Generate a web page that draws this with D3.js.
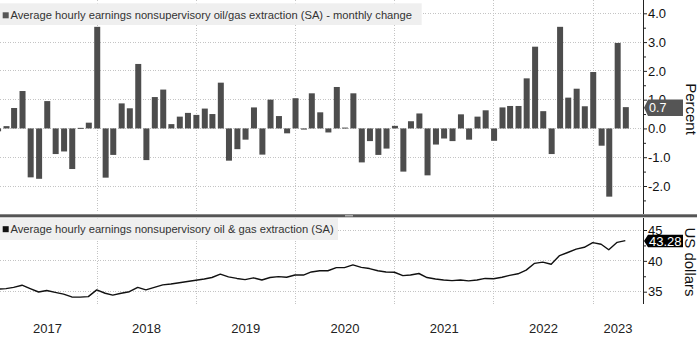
<!DOCTYPE html>
<html>
<head>
<meta charset="utf-8">
<script src="https://cdn.jsdelivr.net/npm/d3@7"></script>
<style>
body{margin:0;background:#fff}
text{font-family:"Liberation Sans",Arial,sans-serif}
</style>
</head>
<body>
<svg width="697" height="337"></svg>
<script>
"use strict";
// monthly % change, Dec 2016 .. Apr 2023 (month-end)
var barChanges = [
  -0.1, 0.08, 0.71, 1.30, -1.70, -1.75, 0.95, -0.89, -0.80, -1.41,
  0.02, 0.20, 3.53, -1.71, -0.92, 0.87, 0.70, 2.24, -1.10, 1.09,
  1.35, 0.15, 0.41, 0.54, 0.47, 0.69, 0.50, 1.59, -1.12, -0.72,
  -0.39, 0.73, -0.91, 1.00, 0.43, -0.17, 1.05, -0.04, 1.22, 0.56,
  -0.14, 1.44, 0.03, 1.22, -1.18, -0.44, -0.92, -0.70, 0.09, -1.50,
  0.25, 0.52, -1.63, -0.56, -0.35, -0.44, 0.49, -0.39, 0.41, 0.63,
  -0.43, 0.73, 0.78, 0.78, 1.74, 2.84, 0.60, -0.89, 3.53, 1.07,
  1.38, 0.77, 1.96, -0.60, -2.37, 2.97, 0.74
];
// hourly earnings level, US dollars
var earnings = [
  35.4, 35.5, 35.7, 36.05, 35.5, 34.95, 35.2, 34.9, 34.6, 34.15,
  34.12, 34.2, 35.3, 34.75, 34.45, 34.75, 35.0, 35.7, 35.3, 35.7,
  36.1, 36.25, 36.45, 36.65, 36.85, 37.05, 37.3, 37.85, 37.4, 37.15,
  36.95, 37.25, 36.9, 37.3, 37.45, 37.35, 37.7, 37.7, 38.2, 38.4,
  38.4, 38.9, 38.9, 39.35, 38.95, 38.75, 38.4, 38.2, 38.15, 37.6,
  37.7, 37.95, 37.3, 37.05, 36.9, 36.8, 36.9, 36.75, 36.9, 37.15,
  37.1, 37.35, 37.65, 37.9, 38.5, 39.6, 39.8, 39.45, 40.85, 41.35,
  41.9, 42.2, 42.95, 42.7, 41.8, 43.0, 43.28
];
var years = [2017, 2018, 2019, 2020, 2021, 2022, 2023];
var topTicks = [-2, -1, 0, 1, 2, 3, 4];
var topMinor = [-2.5, -1.5, -0.5, 0.5, 1.5, 2.5, 3.5];
var botTicks = [35, 40, 45];
var botMinor = [37.5, 42.5];
var topTitle = "Average hourly earnings nonsupervisory oil/gas extraction (SA) - monthly change";
var botTitle = "Average hourly earnings nonsupervisory oil & gas extraction (SA)";

// month-end dates
var months = barChanges.map(function(d, i) {return new Date(2017, i, 0)});

//layout constants
const axisX = 643;
const topBottom = 213;
const botTop = 218, botBottom = 304;
const barColor = "#4d4d4d";
const gridColor = "#c4c4c4";

var svg = d3.select("svg");

var x = d3.scaleTime()
  .domain([new Date(2018, 0, 1), new Date(2023, 0, 1)])
  .range([97, 593]);
var yTop = d3.scaleLinear().domain([-2, 4]).range([186, 13.3]);
var yBot = d3.scaleLinear().domain([35, 45]).range([291.7, 230]);

var grid = svg.append("g");
var yearStarts = years.slice(1).map(function(y) {return new Date(y, 0, 1)});

//vertical grid, both panels
grid.selectAll(".vt").data(yearStarts).join("line")
  .attr("x1", d => x(d)).attr("x2", d => x(d))
  .attr("y1", 0).attr("y2", topBottom);
grid.selectAll(".vb").data(yearStarts).join("line")
  .attr("class", "vb")
  .attr("x1", d => x(d)).attr("x2", d => x(d))
  .attr("y1", botTop).attr("y2", botBottom + 1);
//horizontal grid
grid.selectAll(".ht").data(topTicks).join("line")
  .attr("class", "ht")
  .attr("x1", 0).attr("x2", axisX)
  .attr("y1", d => yTop(d)).attr("y2", d => yTop(d));
grid.selectAll(".hb").data(botTicks).join("line")
  .attr("class", "hb")
  .attr("x1", 0).attr("x2", axisX)
  .attr("y1", d => yBot(d)).attr("y2", d => yBot(d));
grid.selectAll("line")
  .attr("stroke", gridColor).attr("stroke-width", 1)
  .attr("stroke-dasharray", "1,1.5").attr("shape-rendering", "crispEdges");

// bars
svg.append("g").selectAll("rect").data(barChanges).join("rect")
  .attr("x", (d, i) => x(months[i]) - 2.5)
  .attr("width", 6)
  .attr("y", d => Math.min(yTop(d), yTop(0)))
  .attr("height", d => Math.max(1, Math.abs(yTop(d) - yTop(0))))
  .attr("fill", barColor);

// line
var line = d3.line()
  .x((d, i) => x(months[i]))
  .y(d => yBot(d));
svg.append("path").datum(earnings)
  .attr("d", line)
  .attr("fill", "none")
  .attr("stroke", "#111")
  .attr("stroke-width", 1.4)
  .attr("stroke-linejoin", "round");

// legends
function legend(y0, h, w, txt, sq, ty) {
  var g = svg.append("g");
  g.append("rect").attr("x", 0).attr("y", y0).attr("width", w).attr("height", h).attr("fill", "#efefef");
  g.append("rect").attr("x", 2.7).attr("y", ty - 7).attr("width", 6).attr("height", 6).attr("fill", sq);
  g.append("text").attr("x", 10.5).attr("y", ty).attr("font-size", 11.2).attr("fill", "#333").text(txt);
}
legend(3.3, 21.7, 421.7, topTitle, "#555", 19.3);
legend(218.3, 21.7, 338, botTitle, "#111", 233.2);

// separator
svg.append("rect").attr("x", 0).attr("y", 214.3).attr("width", 697).attr("height", 3).attr("fill", "#555");
svg.append("rect").attr("x", 345).attr("y", 215).attr("width", 8).attr("height", 1.5).attr("fill", "#aaa");

// axes
function yAxis(scale, ticks, minor, fmt, y1, y2) {
  var g = svg.append("g").attr("transform", "translate(" + axisX + ",0)");
  g.call(d3.axisRight(scale).tickValues(ticks).tickSize(4).tickPadding(1).tickFormat(fmt));
  g.select(".domain").remove();
  g.selectAll(".tick line").attr("stroke", "#222");
  g.selectAll(".tick text").attr("font-size", 13).attr("fill", "#111")
    .attr("font-family", "Liberation Sans, Arial, sans-serif");
  g.append("line").attr("x1", 0.5).attr("x2", 0.5).attr("y1", y1).attr("y2", y2).attr("stroke", "#222");
  g.selectAll(".minor").data(minor).join("line").attr("class", "minor")
    .attr("x1", 0).attr("x2", 3)
    .attr("y1", d => scale(d) + 0.5).attr("y2", d => scale(d) + 0.5)
    .attr("stroke", "#222");
}
yAxis(yTop, topTicks, topMinor, d => d.toFixed(1), 0, topBottom + 1);
yAxis(yBot, botTicks, botMinor, d => String(d), botTop, botBottom);

// axis titles
svg.append("text").attr("transform", "translate(685.5,109) rotate(90)")
  .attr("text-anchor", "middle").attr("font-size", 15).attr("fill", "#111").text("Percent");
svg.append("text").attr("transform", "translate(685,262) rotate(90)")
  .attr("text-anchor", "middle").attr("font-size", 15).attr("fill", "#111").text("US dollars");

// last value tags
function tag(yv, w, h, fill, txt, fs) {
  var g = svg.append("g");
  g.append("path")
    .attr("d", "M" + (axisX + 1) + "," + yv + "L" + (axisX + 5) + "," + (yv - h / 2) +
      "H" + (axisX + 5 + w) + "V" + (yv + h / 2) + "H" + (axisX + 5) + "Z")
    .attr("fill", fill);
  g.append("text").attr("x", axisX + 6).attr("y", yv + fs * 0.36)
    .attr("font-size", fs).attr("fill", "#fff").text(txt);
}
var lastBar = barChanges[barChanges.length - 1];
var lastLevel = earnings[earnings.length - 1];
tag(yTop(lastBar) + 0.5, 35, 16.5, "#555", lastBar.toFixed(1), 12.5);
tag(yBot(lastLevel) + 0.5, 35, 12.5, "#000", lastLevel.toFixed(2), 13);

// year labels, centred on the visible part of each year
var xmin = x(new Date(2017, 0, 1));
svg.append("g").selectAll("text").data(years).join("text")
  .attr("x", function(y) {
    var a = Math.max(x(new Date(y, 0, 1)), xmin);
    var b = Math.min(x(new Date(y + 1, 0, 1)), axisX);
    return (a + b) / 2;
  })
  .attr("y", 332.7)
  .attr("text-anchor", "middle")
  .attr("font-size", 13)
  .attr("fill", "#222")
  .text(d => d);
</script>
</body>
</html>
